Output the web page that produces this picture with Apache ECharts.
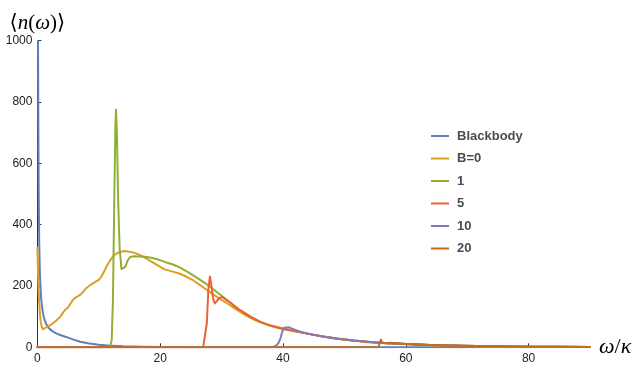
<!DOCTYPE html>
<html>
<head>
<meta charset="utf-8">
<script src="https://cdn.jsdelivr.net/npm/echarts@6/dist/echarts.min.js"></script>
<style>
  html, body { margin: 0; padding: 0; background: #fff; }
  #chart { width: 636px; height: 371px; }
</style>
</head>
<body>
<div id="chart"></div>
<script>
// Mean occupation number <n(ω)> against ω/κ for a blackbody and several field strengths B.
const seriesNames = ['Blackbody', 'B=0', '1', '5', '10', '20'];
const xTicks = [0, 20, 40, 60, 80];
const yTicks = [0, 200, 400, 600, 800, 1000];

const blackbody = [
  [0.1, 1000], [0.14, 800], [0.18, 620], [0.23, 470], [0.3, 340], [0.4, 245], [0.5, 195],
  [0.6, 162], [0.75, 132], [0.9, 112], [1.05, 98], [1.25, 85], [1.45, 75], [1.65, 68],
  [2.0, 60], [2.5, 52], [3.0, 46], [3.7, 40], [4.8, 33], [5.9, 25], [7.0, 18], [8.2, 13],
  [10.0, 8], [11.5, 5.5], [14, 3.2], [17, 1.8], [20, 1], [25, 0.5], [30, 0.3], [40, 0.1],
  [60, 0], [90, 0]
];

const b0 = [
  [0, 325], [0.08, 260], [0.15, 210], [0.25, 160], [0.4, 112], [0.55, 82], [0.7, 67],
  [0.9, 59], [1.1, 60], [1.4, 64], [1.8, 69], [2.3, 75], [2.9, 84], [3.3, 92], [3.7, 99],
  [4.2, 114], [4.6, 124], [5.0, 130], [5.4, 143], [5.8, 155], [6.2, 162], [6.9, 170],
  [7.4, 180], [7.9, 192], [8.4, 200], [8.9, 207], [9.5, 214], [10.0, 220], [10.4, 230],
  [10.8, 245], [11.3, 265], [11.8, 282], [12.3, 296], [12.8, 305], [13.4, 311], [14.2, 314],
  [15.0, 312], [15.8, 308], [16.6, 302], [17.4, 293], [18.3, 283], [19.2, 272], [20.0, 262],
  [20.6, 255], [21.3, 251], [22.2, 246], [23.2, 240], [24.3, 230], [25.4, 218], [26.5, 203],
  [27.6, 187], [28.6, 173], [29.7, 158], [31.0, 142], [32.5, 122], [34.0, 103], [35.5, 88],
  [37.0, 77], [38.5, 69], [40.0, 62], [42, 53], [44.4, 43], [46.5, 35], [48.7, 28],
  [51.5, 21], [54.2, 16], [57, 13], [60, 10.5], [64, 7], [69, 4.5], [74, 3], [80, 2],
  [85, 1.3], [90, 1]
];

const b1 = [
  [0, 0], [11.6, 0], [11.9, 8], [12.1, 24], [12.3, 150], [12.5, 450], [12.7, 720],
  [12.8, 775], [12.95, 700], [13.15, 480], [13.4, 320], [13.7, 255], [13.95, 250],
  [14.3, 262], [14.7, 283], [15.1, 294], [15.6, 297], [16.5, 296], [17.5, 295], [18.5, 292],
  [19.4, 288], [20.3, 282], [21.1, 276], [22.1, 270], [23.4, 258], [24.8, 242], [26.2, 224],
  [27.6, 205], [28.8, 187], [30.0, 168], [31.4, 146], [33.0, 121], [34.6, 101], [36.3, 83],
  [38, 70], [39.5, 62], [42, 52], [44.4, 43], [46.5, 35], [48.7, 29], [51.5, 22], [54.2, 17],
  [57, 13.5], [60, 11], [64, 7.5], [69, 5], [74, 3.2], [80, 2.1], [85, 1.4], [90, 1]
];

const b5 = [
  [0, 0], [27.0, 0], [27.3, 5], [27.6, 80], [27.85, 190], [28.1, 231], [28.35, 200],
  [28.6, 160], [28.9, 143], [29.2, 150], [29.6, 161], [30.1, 164], [30.7, 155], [31.4, 146],
  [32.2, 132], [33.0, 121], [34.6, 101], [36.3, 83], [38, 70], [39.5, 62], [42, 52],
  [44.4, 43], [46.5, 35], [48.7, 29], [51.5, 22], [54.2, 17], [57, 13.5], [60, 11],
  [64, 7.5], [69, 5], [74, 3.2], [80, 2.1], [85, 1.4], [90, 1]
];

const b10 = [
  [0, 0], [38.2, 0], [38.8, 4], [39.3, 15], [39.6, 30], [39.9, 52], [40.2, 64], [40.5, 67],
  [41, 65], [42, 57], [43.3, 48], [44.4, 43], [46.5, 35], [48.7, 29], [51.5, 22], [54.2, 17],
  [57, 13.5], [60, 11], [64, 7.5], [69, 5], [74, 3.2], [80, 2.1], [85, 1.4], [90, 1]
];

const b20 = [
  [0, 0], [55.5, 0], [55.75, 12], [55.95, 25], [56.15, 16], [56.4, 10], [56.8, 13],
  [57.3, 15], [58, 14], [60, 11], [64, 7.5], [69, 5], [74, 3.2], [80, 2.1], [85, 1.4], [90, 1]
];

const colors = ['#5E81B5', '#E19C24', '#8FB032', '#EB6235', '#8778B3', '#C56E1A'];
const allData = [blackbody, b0, b1, b5, b10, b20];

const chart = echarts.init(document.getElementById('chart'), null, { renderer: 'canvas' });

const axisFont = 'Liberation Sans, Arial, sans-serif';
const mathFont = 'Liberation Serif, DejaVu Serif, serif';

chart.setOption({
  animation: false,
  backgroundColor: '#ffffff',
  color: colors,
  grid: { left: 37.4, right: 46, top: 40.7, bottom: 23.7, containLabel: false },
  legend: {
    orient: 'vertical',
    left: 426,
    top: 124,
    itemWidth: 18,
    itemHeight: 2,
    itemGap: 8.5,
    icon: 'rect',
    data: seriesNames,
    textStyle: {
      fontFamily: axisFont, fontSize: 13, fontWeight: 'bold', color: '#4d4d4d',
      lineHeight: 14, padding: [0, 0, 0, 3]
    }
  },
  xAxis: {
    type: 'value',
    min: 0, max: 90, interval: 20,
    name: '{i|ω}{r|/}{i|κ}',
    nameLocation: 'end',
    nameGap: 9,
    nameTextStyle: {
      rich: {
        i: { fontFamily: mathFont, fontStyle: 'italic', fontSize: 22, color: '#000' },
        r: { fontFamily: mathFont, fontSize: 22, color: '#000' }
      }
    },
    axisLine: { lineStyle: { color: '#333', width: 1 } },
    axisTick: { inside: true, length: 4, lineStyle: { color: '#333' }, customValues: xTicks },
    axisLabel: { fontFamily: axisFont, fontSize: 12, color: '#222', margin: 5, customValues: xTicks },
    splitLine: { show: false }
  },
  yAxis: {
    type: 'value',
    min: 0, max: 1000, interval: 200,
    name: '{r|⟨}{i|n}{r|(}{i|ω}{r|)⟩}',
    nameLocation: 'end',
    nameGap: 7,
    nameTextStyle: {
      align: 'center',
      rich: {
        i: { fontFamily: mathFont, fontStyle: 'italic', fontSize: 21, color: '#000' },
        r: { fontFamily: mathFont, fontSize: 21, color: '#000' }
      }
    },
    axisLine: { show: true, lineStyle: { color: '#333', width: 1 } },
    axisTick: { show: true, inside: true, length: 4, lineStyle: { color: '#333' }, customValues: yTicks },
    axisLabel: {
      fontFamily: axisFont, fontSize: 12, color: '#222', margin: 5, customValues: yTicks,
      formatter: (v) => String(v)
    },
    splitLine: { show: false }
  },
  series: seriesNames.map((name, k) => ({
    name: name,
    type: 'line',
    data: allData[k],
    showSymbol: false,
    symbol: 'none',
    smooth: false,
    clip: true,
    lineStyle: { width: 2, color: colors[k], join: 'round', cap: 'round' },
    itemStyle: { color: colors[k] },
    z: 2 + k
  }))
});
</script>
</body>
</html>
